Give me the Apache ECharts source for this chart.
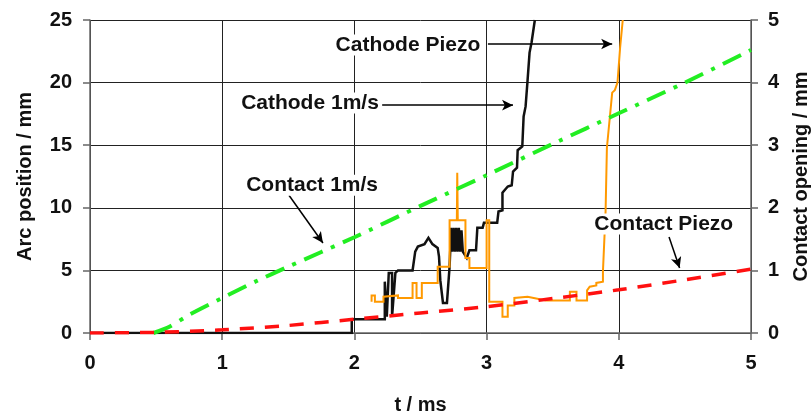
<!DOCTYPE html>
<html>
<head>
<meta charset="utf-8">
<script src="https://cdn.jsdelivr.net/npm/echarts@6/dist/echarts.min.js"></script>
<style>
  html, body { margin: 0; padding: 0; background: #ffffff; }
  #chart { width: 812px; height: 415px; }
</style>
</head>
<body>
<div id="chart"></div>
<script>
// Time axis (ms) and the two value axes
const timeTicks = [0, 1, 2, 3, 4, 5];
const arcTicks = [0, 5, 10, 15, 20, 25];
const openingTicks = [0, 1, 2, 3, 4, 5];

// Arc position (mm) vs time (ms), cathode moved at 1 m/s
const cathode1ms = [
  [0, 0], [1.98, 0], [1.98, 1.1], [2.23, 1.1], [2.23, 4.1], [2.245, 4.1], [2.245, 1.3],
  [2.26, 1.3], [2.26, 4.8], [2.285, 4.8], [2.285, 1.3], [2.30, 1.3], [2.31, 4.8],
  [2.33, 5.0], [2.44, 5.0], [2.46, 6.5], [2.48, 6.9], [2.53, 7.1], [2.56, 7.6],
  [2.59, 7.1], [2.63, 6.8], [2.64, 6.1], [2.65, 4.2], [2.67, 2.4], [2.70, 2.4],
  [2.72, 5.3], [2.725, 6.6], [2.73, 8.4], [2.74, 6.5], [2.75, 8.4], [2.76, 6.5],
  [2.77, 8.4], [2.78, 6.5], [2.79, 8.4], [2.80, 6.5], [2.81, 8.2], [2.82, 6.5],
  [2.85, 6.0], [2.87, 6.6], [2.92, 6.6], [2.93, 8.4], [2.97, 8.4], [2.98, 8.8],
  [3.08, 8.8], [3.09, 9.7], [3.12, 9.8], [3.12, 11.2], [3.16, 11.7], [3.19, 11.8],
  [3.20, 12.9], [3.23, 13.2], [3.235, 14.6], [3.27, 14.9], [3.28, 17.3], [3.295, 18.1],
  [3.31, 20.2], [3.325, 22.4], [3.34, 23.2], [3.365, 25]
];

// Arc position (mm) vs time (ms), piezo-driven cathode
const cathodePiezo = [
  [2.13, 2.5], [2.13, 3.0], [2.155, 3.0], [2.155, 2.5], [2.22, 2.5], [2.22, 2.9],
  [2.33, 3.0], [2.33, 2.8], [2.44, 2.8], [2.44, 4.0], [2.47, 4.0], [2.47, 2.8],
  [2.51, 2.8], [2.51, 4.0], [2.63, 4.0], [2.63, 5.3], [2.72, 5.3], [2.72, 9.0],
  [2.775, 9.0], [2.778, 12.8], [2.782, 9.0], [2.84, 9.0], [2.84, 6.0], [2.87, 6.0],
  [2.87, 5.2], [3.0, 5.2], [3.0, 9.0], [3.02, 9.0], [3.02, 2.5], [3.12, 2.5],
  [3.12, 1.3], [3.16, 1.3], [3.16, 2.2], [3.21, 2.2], [3.21, 2.8], [3.31, 2.9],
  [3.45, 2.6], [3.63, 2.6], [3.63, 3.3], [3.68, 3.3], [3.68, 2.6], [3.76, 2.6],
  [3.76, 3.4], [3.78, 3.7], [3.83, 3.8], [3.83, 4.0], [3.88, 4.1], [3.88, 4.9],
  [3.90, 9.7], [3.91, 14.8], [3.95, 19.2], [3.97, 19.4], [3.99, 20.0], [4.01, 22.8],
  [4.03, 25]
];

// Contact opening (mm) vs time (ms)
const contact1ms = [
  [0.48, 0], [0.6, 0.1], [0.75, 0.29], [1, 0.56], [1.25, 0.82], [1.5, 1.06],
  [2, 1.53], [2.5, 2.03], [3, 2.52], [3.5, 3.02], [4, 3.51], [4.5, 4.0], [5, 4.52]
];
const contactPiezo = [
  [0, 0], [0.5, 0.01], [1, 0.05], [1.5, 0.12], [2, 0.22], [2.5, 0.32],
  [3, 0.42], [3.5, 0.55], [4, 0.69], [4.5, 0.85], [5, 1.02]
];

// Callout labels: text anchor and arrow (tail -> head), in time / arc-position units
const callouts = [
  { text: 'Cathode Piezo', at: [2.405, 23.0], from: [3.01, 23.08], to: [3.95, 23.08] },
  { text: 'Cathode 1m/s',  at: [1.664, 18.37], from: [2.21, 18.2], to: [3.20, 18.2] },
  { text: 'Contact 1m/s',  at: [1.68, 11.8], from: [1.505, 11.0], to: [1.762, 7.19] },
  { text: 'Contact Piezo', at: [4.34, 8.7], from: [4.38, 7.67], to: [4.46, 5.19] }
];

const FONT = 'Liberation Sans, Arial, sans-serif';
const gridColor = '#222';
const axisColor = '#666';

const chart = echarts.init(document.getElementById('chart'), null, { renderer: 'canvas' });

const tickLabel = { color: '#111', fontFamily: FONT, fontWeight: 'bold', fontSize: 20 };

chart.setOption({
  animation: false,
  backgroundColor: '#ffffff',
  grid: { left: 90, right: 61, top: 20, bottom: 82, containLabel: false, outerBoundsMode: 'none' },
  xAxis: {
    type: 'value', min: timeTicks[0], max: timeTicks[timeTicks.length - 1], interval: 1,
    name: 't / ms', nameLocation: 'middle', nameGap: 62,
    nameTextStyle: { color: '#111', fontFamily: FONT, fontWeight: 'bold', fontSize: 20 },
    axisLine: { show: true, lineStyle: { color: axisColor, width: 1.5 } },
    axisTick: { show: true, length: 7, inside: false, lineStyle: { color: axisColor, width: 1.5 } },
    axisLabel: Object.assign({ margin: 20 }, tickLabel),
    splitLine: { show: true, lineStyle: { color: gridColor, width: 1 } }
  },
  yAxis: [
    {
      type: 'value', min: arcTicks[0], max: arcTicks[arcTicks.length - 1], interval: 5,
      name: 'Arc position / mm', nameLocation: 'middle', nameGap: 55, nameRotate: 90,
      nameTextStyle: { color: '#111', fontFamily: FONT, fontWeight: 'bold', fontSize: 20 },
      axisLine: { show: true, onZero: false, lineStyle: { color: axisColor, width: 1.5 } },
      axisTick: { show: true, length: 7, lineStyle: { color: axisColor, width: 1.5 } },
      axisLabel: Object.assign({ margin: 18 }, tickLabel),
      splitLine: { show: true, lineStyle: { color: gridColor, width: 1 } }
    },
    {
      type: 'value', position: 'right', min: openingTicks[0],
      max: openingTicks[openingTicks.length - 1], interval: 1,
      name: 'Contact opening / mm', nameLocation: 'middle', nameGap: 40, nameRotate: 90,
      nameTextStyle: { color: '#111', fontFamily: FONT, fontWeight: 'bold', fontSize: 20 },
      axisLine: { show: true, onZero: false, lineStyle: { color: axisColor, width: 1.5 } },
      axisTick: { show: true, length: 7, lineStyle: { color: axisColor, width: 1.5 } },
      axisLabel: Object.assign({ margin: 17 }, tickLabel),
      splitLine: { show: false }
    }
  ],
  series: [
    {
      name: 'Cathode 1m/s', type: 'line', yAxisIndex: 0, data: cathode1ms,
      showSymbol: false, clip: true,
      lineStyle: { color: '#111111', width: 2.5, join: 'miter' }
    },
    {
      name: 'Cathode Piezo', type: 'line', yAxisIndex: 0, data: cathodePiezo,
      showSymbol: false, clip: true,
      lineStyle: { color: '#ff9900', width: 2, join: 'miter' }
    },
    {
      name: 'Contact 1m/s', type: 'line', yAxisIndex: 1, data: contact1ms,
      showSymbol: false, smooth: 0.2,
      lineStyle: { color: '#22ee22', width: 4, type: [20, 9, 4, 9] }
    },
    {
      name: 'Contact Piezo', type: 'line', yAxisIndex: 1, data: contactPiezo,
      showSymbol: false, smooth: 0.2,
      lineStyle: { color: '#ff1010', width: 3.5, type: [14, 11] }
    },
    {
      // carrier for the callout arrows (no data of its own)
      name: 'callouts', type: 'line', yAxisIndex: 0, data: [],
      markLine: {
        silent: true, animation: false,
        symbol: ['none', 'arrow'], symbolSize: [8, 11],
        label: { show: false },
        lineStyle: { color: '#000', width: 1.5, type: 'solid' },
        data: callouts.map(c => [{ coord: c.from }, { coord: c.to }])
      }
    }
  ]
});

// Callout texts placed from data coordinates
const texts = callouts.map(c => {
  const p = chart.convertToPixel({ xAxisIndex: 0, yAxisIndex: 0 }, c.at);
  return {
    type: 'text', x: p[0], y: p[1], z: 100,
    style: {
      text: c.text, fill: '#111', font: 'bold 21px ' + FONT,
      align: 'center', verticalAlign: 'middle', backgroundColor: '#ffffff'
    }
  };
});
chart.setOption({ graphic: texts });
</script>
</body>
</html>
